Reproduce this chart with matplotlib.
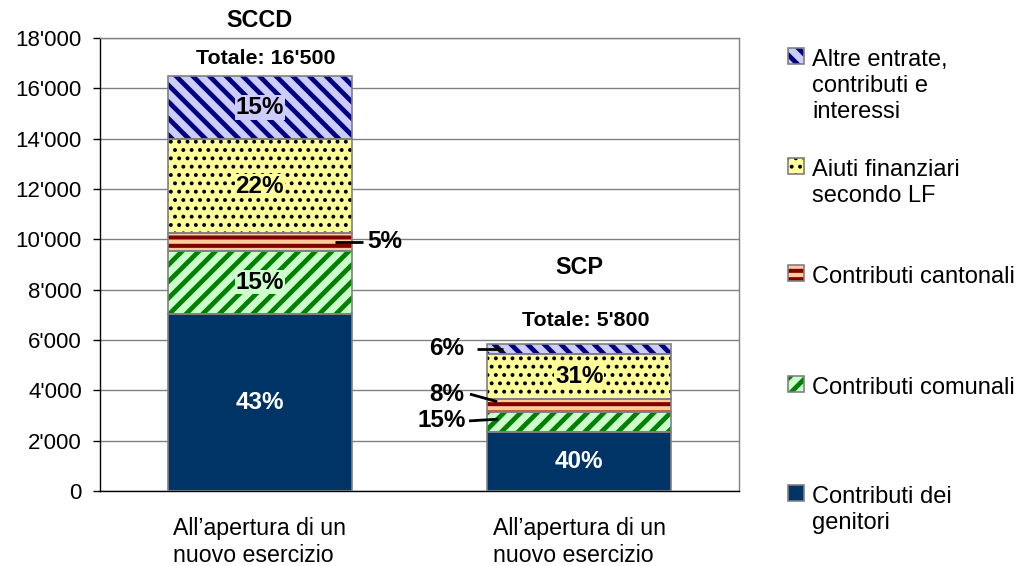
import matplotlib.pyplot as plt
from matplotlib.patches import Rectangle
from matplotlib.ticker import FuncFormatter, MultipleLocator

plt.rcParams["font.family"] = ["Liberation Sans", "DejaVu Sans"]

# --- data ---
categories = ["All\u2019apertura di un\nnuovo esercizio", "All\u2019apertura di un\nnuovo esercizio"]
group_names = ["SCCD", "SCP"]
totals = [16500, 5800]

parents = [7050, 2340]
communal = [2490, 810]
cantonal = [710, 500]
aiuti = [3720, 1810]
altre = [2530, 400]

pct_sccd = [43, 15, 5, 22, 15]
pct_scp = [40, 15, 8, 31, 6]

series_names = [
    "Contributi dei\ngenitori",
    "Contributi comunali",
    "Contributi cantonali",
    "Aiuti finanziari\nsecondo LF",
    "Altre entrate,\ncontributi e\ninteressi",
]

# --- styles (bottom -> top) ---
STYLES = [
    {"face": "#003366", "hatch": None, "hc": None, "hlw": 0},
    {"face": "#ccffcc", "hatch": "//", "hc": "#008000", "hlw": 3.4},
    {"face": "#ffcc99", "hatch": "--", "hc": "#800000", "hlw": 2.9},
    {"face": "#ffff99", "hatch": "..", "hc": "#000000", "hlw": 1.6},
    {"face": "#ccccff", "hatch": "\\\\", "hc": "#000080", "hlw": 3.4},
]


def fmt_k(v, pos=None):
    return f"{int(v):,}".replace(",", "'")


W, H = 1017, 566
fig = plt.figure(figsize=(W / 100, H / 100), dpi=100)
ax = fig.add_axes([100 / W, 75 / H, 639 / W, 453 / H])

series = [parents, communal, cantonal, aiuti, altre]
x = [0, 1]
bw = 0.576
bottoms = [0, 0]
mids = []
for vals, st in zip(series, STYLES):
    ax.bar(x, vals, bw, bottom=bottoms, color=st["face"], lw=0, zorder=2)
    if st["hatch"]:
        hb = ax.bar(x, vals, bw, bottom=bottoms, facecolor="none",
                    edgecolor=st["hc"], lw=0, hatch=st["hatch"], zorder=3)
        for p in hb:
            p.set_hatch_linewidth(st["hlw"])
    ax.bar(x, vals, bw, bottom=bottoms, facecolor="none",
           edgecolor="#808080", lw=1.2, zorder=4)
    mids.append([b + v / 2 for b, v in zip(bottoms, vals)])
    bottoms = [b + v for b, v in zip(bottoms, vals)]

ax.set_xlim(-0.5, 1.5)
ax.set_ylim(0, 18000)
ax.yaxis.set_major_locator(MultipleLocator(2000))
ax.yaxis.set_major_formatter(FuncFormatter(fmt_k))
ax.grid(True, axis="y", color="#808080", lw=1, zorder=0)
ax.set_axisbelow(True)
ax.set_xticks(x)
ax.set_xticklabels(categories, fontsize=16.7, linespacing=1.22, multialignment="left")
ax.tick_params(axis="x", length=0, pad=19)
ax.tick_params(axis="y", direction="out", length=5, width=1, pad=8, labelsize=16)
for s in ["left", "bottom"]:
    ax.spines[s].set_color("black")
    ax.spines[s].set_linewidth(1)
for s in ["right", "top"]:
    ax.spines[s].set_color("#808080")
    ax.spines[s].set_linewidth(1)

# inside percentage labels
pcts = [pct_sccd, pct_scp]
inside = {0: [0, 1, 3, 4], 1: [0, 3]}
for i in x:
    for k in inside[i]:
        ax.text(i, mids[k][i], f"{pcts[i][k]}%", ha="center", va="center",
                fontsize=17.5, fontweight="bold",
                color="white" if k == 0 else "black", zorder=6,
                bbox=dict(facecolor=STYLES[k]["face"], edgecolor="none", pad=0.5))

# outside labels with leader lines
outside = [
    # bar, segment, text x, text dy, ha, line start x, line start dy, line end x, line end dy
    (0, 2, 0.335, 0, "left", 0.323, 0, 0.236, 0),
    (1, 4, 0.640, 0, "right", 0.679, 0, 0.761, 0),
    (1, 2, 0.640, 450, "right", 0.658, 450, 0.743, 150),
    (1, 1, 0.645, 40, "right", 0.655, 40, 0.746, 110),
]
for i, k, tx, tdy, ha, lx0, ldy0, lx1, ldy1 in outside:
    y = mids[k][i]
    ax.plot([lx0, lx1], [y + ldy0, y + ldy1], color="black", lw=2,
            solid_capstyle="butt", zorder=6)
    ax.text(tx, y + tdy, f"{pcts[i][k]}%", ha=ha, va="center",
            fontsize=17.5, fontweight="bold", zorder=6)

# group titles and totals
title_y = [18700, 8900]
total_y = [17200, 6780]
for i in x:
    ax.text(i, title_y[i], group_names[i], ha="center", va="center",
            fontsize=16.8, fontweight="bold", clip_on=False)
    ax.text(i + 0.02, total_y[i], f"Totale: {fmt_k(totals[i])}", ha="center",
            va="center", fontsize=15.4, fontweight="bold")

# legend (manual, to match spacing)
leg_y = [493, 384, 273, 166, 56]
for st, name, yc in zip(STYLES, series_names, leg_y):
    box = ((788 / W, (H - yc - 8) / H), 16 / W, 16 / H)
    fig.add_artist(Rectangle(*box, transform=fig.transFigure,
                             facecolor=st["face"], edgecolor="none"))
    if st["hatch"]:
        r = Rectangle(*box, transform=fig.transFigure, facecolor="none",
                      edgecolor=st["hc"], lw=0, hatch=st["hatch"])
        r.set_hatch_linewidth(st["hlw"])
        fig.add_artist(r)
    fig.add_artist(Rectangle(*box, transform=fig.transFigure, facecolor="none",
                             edgecolor="#808080", lw=1.2))
    fig.text(812 / W, (H - yc + 7) / H, name, ha="left", va="top",
             fontsize=17, linespacing=1.25)

fig.savefig("out.png", dpi=100)
